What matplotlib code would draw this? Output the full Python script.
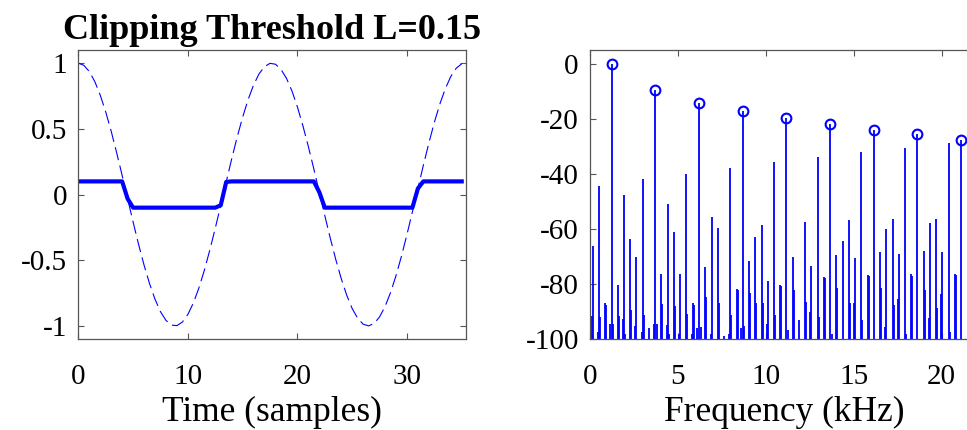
import matplotlib
matplotlib.use("Agg")
import matplotlib.pyplot as plt
import numpy as np

plt.rcParams['font.family'] = ['Liberation Serif', 'DejaVu Serif']
plt.rcParams['axes.unicode_minus'] = False

# time axis, half-sample steps
t = np.arange(0, 35.5, 0.5)

# original sinusoid (dashed)
x_orig = [1.000, 0.984, 0.937, 0.861, 0.757, 0.629, 0.482, 0.318, 0.146, -0.032,
          -0.209, -0.379, -0.537, -0.678, -0.797, -0.892, -0.958, -0.994, -0.998, -0.971,
          -0.913, -0.826, -0.713, -0.578, -0.424, -0.257, -0.082, 0.096, 0.271, 0.437,
          0.589, 0.723, 0.834, 0.919, 0.974, 0.999, 0.992, 0.953, 0.885, 0.789,
          0.667, 0.524, 0.365, 0.195, 0.018, -0.160, -0.332, -0.494, -0.640, -0.766,
          -0.868, -0.942, -0.987, -1.000, -0.982, -0.932, -0.853, -0.747, -0.618, -0.469,
          -0.305, -0.131, 0.046, 0.223, 0.392, 0.549, 0.688, 0.805, 0.898, 0.962,
          0.995]

# clipped signal
x_clip = [0.1, 0.1, 0.1, 0.1, 0.1, 0.1, 0.1, 0.1, 0.1, -0.032,
          -0.1, -0.1, -0.1, -0.1, -0.1, -0.1, -0.1, -0.1, -0.1, -0.1,
          -0.1, -0.1, -0.1, -0.1, -0.1, -0.1, -0.082, 0.096, 0.1, 0.1,
          0.1, 0.1, 0.1, 0.1, 0.1, 0.1, 0.1, 0.1, 0.1, 0.1,
          0.1, 0.1, 0.1, 0.1, 0.018, -0.1, -0.1, -0.1, -0.1, -0.1,
          -0.1, -0.1, -0.1, -0.1, -0.1, -0.1, -0.1, -0.1, -0.1, -0.1,
          -0.1, -0.1, 0.046, 0.1, 0.1, 0.1, 0.1, 0.1, 0.1, 0.1,
          0.1]

# odd harmonics (kHz, dB)
harm_f = [1.23, 3.72, 6.20, 8.69, 11.18, 13.66, 16.15, 18.63, 21.12]
harm_db = [0, -9.5, -14.4, -17.3, -19.8, -21.9, -24.0, -25.5, -27.6]

# aliased components
alias_f = [0.17, 0.52, 0.88,
           1.59, 1.94, 2.30, 2.65, 3.01, 3.36,
           4.07, 4.43, 4.78, 5.14, 5.49, 5.85,
           6.56, 6.92, 7.27, 7.63, 7.98, 8.34,
           9.05, 9.40, 9.76, 10.11, 10.47, 10.82,
           11.53, 11.89, 12.24, 12.60, 12.95, 13.31,
           14.02, 14.37, 14.73, 15.08, 15.44, 15.79,
           16.50, 16.86, 17.21, 17.57, 17.92, 18.28,
           18.99, 19.34, 19.70, 20.05, 20.41, 20.76]
alias_db = [-66.3, -44.4, -86.8,
            -80.2, -47.7, -63.6, -70.3, -42.0, -96.0,
            -76.2, -51.1, -61.2, -76.2, -40.0, -87.0,
            -73.7, -55.5, -59.7, -99.0, -37.7, -81.8,
            -71.6, -62.9, -58.5, -79.0, -35.7, -80.2,
            -70.2, -93.0, -57.4, -73.5, -33.9, -77.5,
            -69.3, -64.5, -56.6, -70.6, -32.1, -76.7,
            -68.4, -60.0, -56.3, -69.2, -30.6, -76.5,
            -68.0, -58.0, -56.3, -68.5, -28.8, -76.2]

# leakage next to each line
leak_f = [0.11, 0.46, 0.58, 0.94, 1.13, 1.33, 1.65, 1.88, 2.00, 2.36,
          2.59, 2.95, 3.07, 3.62, 3.82, 4.13, 4.37, 4.49, 4.84, 5.08,
          5.55, 5.79, 5.91, 6.10, 6.30, 6.62, 6.86, 7.33, 7.92, 8.04,
          8.40, 8.59, 8.79, 9.11, 9.46, 9.82, 10.05, 10.53, 10.88, 11.28,
          11.59, 12.30, 12.54, 13.01, 13.37, 13.76, 14.08, 14.79, 15.02, 15.50,
          15.85, 16.56, 16.80, 17.27, 17.51, 17.98, 18.34, 19.05, 19.28, 19.76,
          19.99, 20.47, 20.82]
leak_db = [-91.5, -97.3, -92.0, -87.5, -94.7, -94.7, -91.5, -92.9, -98.0, -89.5,
           -95.4, -97.4, -91.3, -94.7, -94.7, -87.3, -94.9, -98.3, -88.0, -98.3,
           -91.0, -98.0, -87.5, -96.0, -95.5, -84.7, -98.3, -87.0, -98.0, -91.2,
           -82.3, -96.0, -95.4, -83.2, -86.8, -86.8, -94.6, -91.4, -80.7, -96.7,
           -82.2, -86.5, -90.1, -91.9, -78.0, -98.3, -81.6, -87.0, -87.0, -93.1,
           -77.2, -81.6, -95.5, -87.7, -85.6, -98.2, -77.0, -82.2, -92.5, -88.6,
           -83.7, -97.3, -76.7]

fig = plt.figure(figsize=(9.67, 4.30), dpi=100)
ax1 = fig.add_axes([0.081, 0.2116, 0.401, 0.672])
ax2 = fig.add_axes([0.610, 0.2116, 0.401, 0.672])

blue = (0, 0, 1)
frame = '#555555'

ax1.plot(t, x_orig, color=blue, lw=0.8, linestyle=(0, (12, 5)))
ax1.plot(t, x_clip, color=blue, lw=3.0)
ax1.set_xlim(0, 35.4)
ax1.set_ylim(-1.1, 1.1)
ax1.set_xticks([0, 10, 20, 30])
ax1.set_yticks([-1, -0.5, 0, 0.5, 1])
ax1.set_yticklabels(['-1', '-0.5', '0', '0.5', '1'])
ax1.set_xlabel('Time (samples)', fontsize=25.5, labelpad=4)
ax1.set_title('Clipping Threshold L=0.15', fontsize=26, fontweight='bold', pad=8)

ax2.vlines(leak_f, -100, leak_db, color=blue, lw=1.3)
ax2.vlines(alias_f, -100, alias_db, color=blue, lw=1.3)
ml, sl, bl = ax2.stem(harm_f, harm_db, bottom=-100, linefmt='-', markerfmt='o', basefmt=' ')
plt.setp(sl, color=blue, lw=1.3)
plt.setp(ml, color=blue, markerfacecolor='none', markersize=7, mew=1.5)
ax2.set_xlim(0, 22.05)
ax2.set_ylim(-100, 5)
ax2.set_xticks([0, 5, 10, 15, 20])
ax2.set_yticks([-100, -80, -60, -40, -20, 0])
ax2.set_xlabel('Frequency (kHz)', fontsize=25.5, labelpad=4)

for ax in (ax1, ax2):
    ax.tick_params(direction='in', top=True, right=True, length=4, width=0.8,
                   color=frame, labelsize=21, pad=8)
    ax.tick_params(axis='x', pad=18)
    for s in ax.spines.values():
        s.set_color(frame)
        s.set_linewidth(0.9)

fig.savefig('out.png', dpi=100)
